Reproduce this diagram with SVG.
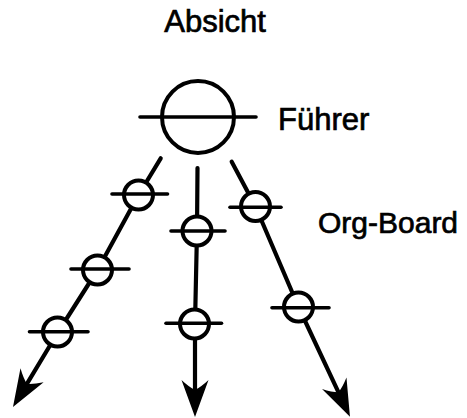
<svg xmlns="http://www.w3.org/2000/svg" width="467" height="418" viewBox="0 0 467 418">
<defs>
<style>
.lbl{font-family:"Liberation Sans",Arial,sans-serif;font-size:31px;fill:#000;stroke:#000;stroke-width:0.7}
.ring{fill:#fff;stroke:#000;stroke-width:4}
.bar{stroke:#000;stroke-width:3.6;stroke-linecap:round}
.conn{fill:none;stroke:#000;stroke-width:4.2;stroke-linecap:round;stroke-linejoin:round}
</style>
<marker id="arr" markerUnits="userSpaceOnUse" viewBox="-12 -16 42 32" markerWidth="42" markerHeight="32" refX="0" refY="0" orient="auto" overflow="visible">
<path d="M27,0 L-10,-13.5 Q-3,-6 0,0 Q-3,6 -10,13.5 Z" fill="#000"/>
</marker>
</defs>
<rect width="467" height="418" fill="#fff"/>
<g id="connectors">
<polyline class="conn" points="160.7,158.3 138.5,195 97.5,270 57.5,333 26.9,383.9" marker-end="url(#arr)"/>
<polyline class="conn" points="197.5,168 197,231 195,324 195,390" marker-end="url(#arr)"/>
<polyline class="conn" points="231.7,161.7 255.5,206.5 298.5,307 338.5,392.3" marker-end="url(#arr)"/>
</g>
<g id="fuehrer">
<circle class="ring" cx="198" cy="117" r="36"/>
<line class="bar" x1="140" y1="117" x2="256" y2="117"/>
</g>
<g id="l1"><circle class="ring" cx="138.5" cy="195" r="14.5"/><line class="bar" x1="112" y1="194" x2="167.5" y2="194"/></g>
<g id="l2"><circle class="ring" cx="97.5" cy="270" r="14.5"/><line class="bar" x1="71" y1="269" x2="129" y2="269"/></g>
<g id="l3"><circle class="ring" cx="57.5" cy="332" r="14.5"/><line class="bar" x1="29.5" y1="331.7" x2="88" y2="331.7"/></g>
<g id="m1"><circle class="ring" cx="197" cy="231" r="14.5"/><line class="bar" x1="171" y1="231" x2="225" y2="231"/></g>
<g id="m2"><circle class="ring" cx="194.5" cy="324" r="14.5"/><line class="bar" x1="166" y1="323.3" x2="221.5" y2="323.3"/></g>
<g id="r1"><circle class="ring" cx="255.5" cy="206.5" r="14.5"/><line class="bar" x1="230" y1="207.3" x2="281" y2="207.3"/></g>
<g id="r2"><circle class="ring" cx="298.5" cy="307" r="14.5"/><line class="bar" x1="272" y1="307.7" x2="329" y2="307.7"/></g>
<g id="labels">
<text class="lbl" x="164.3" y="32.3">Absicht</text>
<text class="lbl" x="278" y="130">Führer</text>
<text class="lbl" x="318" y="233.3" style="font-size:30px">Org-Board</text>
</g>
</svg>
